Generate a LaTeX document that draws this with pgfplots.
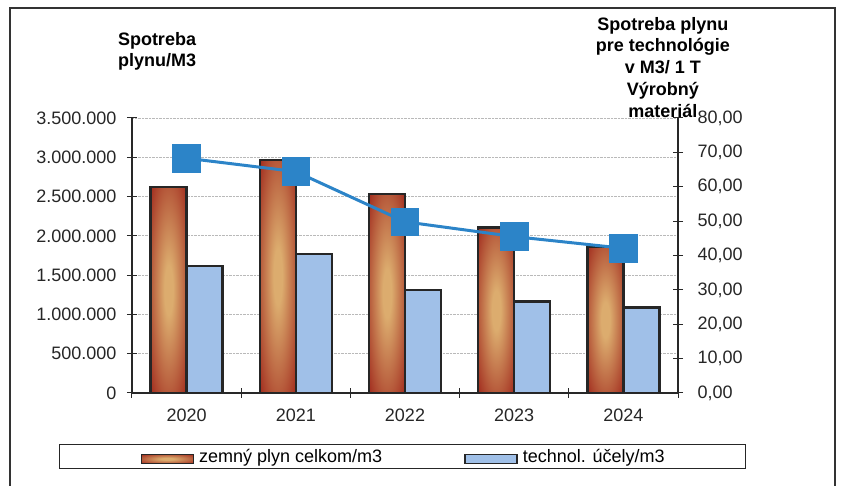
\documentclass[border=0pt]{standalone}
\usepackage{fontspec}
\setmainfont{Liberation Sans}
\usepackage{pgfplots}
\pgfplotsset{compat=1.18}
\usepackage{pgfplotstable}

\definecolor{bardark}{RGB}{164,50,34}
\definecolor{barlight}{RGB}{220,172,110}
\definecolor{barblue}{RGB}{160,192,232}
\definecolor{linecol}{RGB}{44,132,200}
\definecolor{axiscol}{RGB}{40,40,40}

\pgfdeclareradialshading{barshade}{\pgfpoint{0bp}{0bp}}{%
  color(0bp)=(barlight); color(6bp)=(barlight); color(34bp)=(bardark);
  color(80bp)=(bardark)}

\pgfplotstableread{
x red blue
0 2620000 1620000
1 2965000 1772000
2 2533000 1311000
3 2105000 1165000
4 1862000 1088000
}\gasdata

\pgfplotstableread{
x spec
0 68.3
1 64.4
2 49.8
3 45.5
4 42.1
}\specdata

\newcommand{\chartfont}{\fontsize{18}{21.7}\selectfont}
\tikzset{redbar/.style={draw=black!85, line width=2.4pt, shade, shading=barshade}}

\begin{document}
\begin{tikzpicture}

\begin{axis}[
  at={(0pt,0pt)}, anchor=south west,
  scale only axis, width=546pt, height=275pt,
  xmin=-0.5, xmax=4.5, ymin=0, ymax=3500000,
  axis x line*=bottom, axis y line*=left,
  axis line style={axiscol, line width=1.2pt},
  xtick={-0.5,0.5,...,4.5},
  xticklabels={2020,2021,2022,2023,2024},
  x tick label as interval,
  xticklabel style={yshift=-7pt},
  ytick={0,500000,...,3500000},
  yticklabels={0,500.000,1.000.000,1.500.000,2.000.000,2.500.000,3.000.000,3.500.000},
  yticklabel style={xshift=-7pt},
  scaled y ticks=false,
  tick align=center, major tick length=10pt,
  tick style={axiscol, line width=1pt},
  tick label style={font=\chartfont, text=black!85},
  ymajorgrids,
  grid style={densely dotted, gray!55, line width=0.8pt},
  every axis y label/.style={at={(axis description cs:0.0458,1.3127)}, anchor=north, align=center, inner sep=0pt, font=\chartfont\bfseries},
  ylabel={Spotreba\\plynu/M3},
  legend style={at={(axis description cs:-0.1337,-0.1855)}, anchor=north west,
    draw=black!85, line width=1.2pt, inner xsep=81pt, inner ysep=4.5pt,
    font=\chartfont, legend columns=2,
    nodes={inner sep=0pt, anchor=base},
    /tikz/column 1/.style={column sep=5pt},
    /tikz/column 2/.style={column sep=82pt},
    /tikz/column 3/.style={column sep=5pt}},
  legend image code/.code={\draw[#1, line width=1.6pt] (0pt,-1pt) rectangle (52pt,8pt);},
]
\pgfplotsinvokeforeach{0,1,2,3,4}{
  \addplot[ybar, bar width=36pt, bar shift=-18pt, redbar, forget plot,
    restrict x to domain=#1:#1] table[x=x, y=red] {\gasdata};
}
\addlegendimage{redbar}
\addlegendentry{zemný plyn celkom/m3}
\addplot[ybar, bar width=36pt, bar shift=18pt, draw=black!85, line width=2.4pt, fill=barblue] table[x=x, y=blue] {\gasdata};
\addlegendentry{technol. účely/m3}
\end{axis}

\begin{axis}[
  at={(0pt,0pt)}, anchor=south west,
  scale only axis, width=546pt, height=275pt,
  xmin=-0.5, xmax=4.5, ymin=0, ymax=80,
  axis x line=none, axis y line*=right,
  axis line style={axiscol, line width=1.2pt},
  ytick={0,10,...,80},
  yticklabels={{0,00},{10,00},{20,00},{30,00},{40,00},{50,00},{60,00},{70,00},{80,00}},
  yticklabel style={xshift=11pt},
  tick align=center, major tick length=10pt,
  tick style={axiscol, line width=1pt},
  tick label style={font=\chartfont, text=black!85},
  every axis y label/.style={at={(axis description cs:0.9725,1.3673)}, anchor=north, align=center, inner sep=0pt, font=\chartfont\bfseries},
  ylabel={Spotreba plynu\\pre technológie\\v M3/ 1 T\\Výrobný\\materiál},
  clip=false,
]
\addplot[color=linecol, line width=3pt, mark=square*, mark size=12.8pt, mark options={fill=linecol, draw=none}] table[x=x, y=spec] {\specdata};
\end{axis}

\draw[line width=1.5pt, black!80] (-122pt,-93pt) -- (-122pt,385pt) -- (703pt,385pt) -- (703pt,-93pt);
\path[use as bounding box] (-132pt,-93pt) rectangle (709pt,393pt);
\end{tikzpicture}
\end{document}
